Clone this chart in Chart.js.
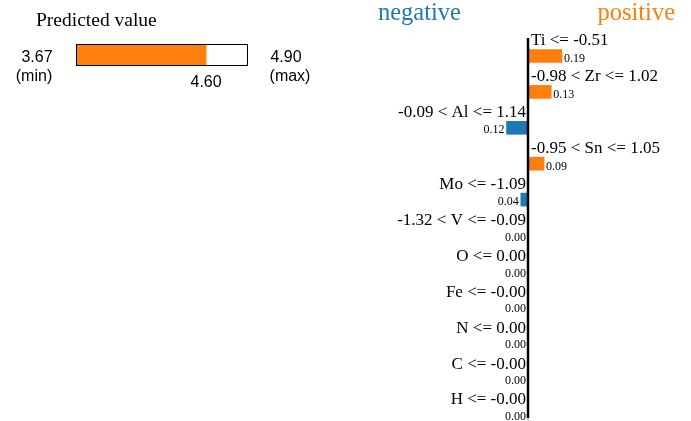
<!DOCTYPE html>
<html>
<head>
<meta charset="utf-8">
<script src="https://cdn.jsdelivr.net/npm/chart.js@4.4.1/dist/chart.umd.min.js"></script>
<style>
  html, body { margin: 0; padding: 0; background: #fff; }
  #wrap { position: relative; width: 691px; height: 421px; overflow: hidden; }
  #expl { position: absolute; left: 0; top: 0; }
  #pred { position: absolute; left: 0; top: 0; }
</style>
</head>
<body>
<div id="wrap">
  <canvas id="expl" width="691" height="421"></canvas>
  <canvas id="pred" width="340" height="100"></canvas>
</div>
<script>
// Prediction range
const predMin = 3.67;
const predMax = 4.90;
const predValue = 4.60;

// Feature conditions and their local weights
const features = [
  "Ti <= -0.51",
  "-0.98 < Zr <= 1.02",
  "-0.09 < Al <= 1.14",
  "-0.95 < Sn <= 1.05",
  "Mo <= -1.09",
  "-1.32 < V <= -0.09",
  "O <= 0.00",
  "Fe <= -0.00",
  "N <= 0.00",
  "C <= -0.00",
  "H <= -0.00"
];
const weights = [0.19, 0.13, -0.12, 0.09, -0.04, 0.00, 0.00, 0.00, 0.00, 0.00, 0.00];

const BLUE = '#1f77b4';
const ORANGE = '#ff7f0e';
const SERIF = '"Liberation Serif", "Times New Roman", serif';
const SANS = '"Liberation Sans", Arial, sans-serif';

Chart.defaults.animation = false;

// ---- Predicted value bar ----
const predText = {
  id: 'predText',
  afterDraw(chart) {
    const ctx = chart.ctx;
    const a = chart.chartArea;
    const x = chart.scales.x;
    ctx.save();
    ctx.strokeStyle = '#000';
    ctx.lineWidth = 1;
    ctx.strokeRect(a.left + 0.5, a.top + 0.5, a.right - a.left - 1, a.bottom - a.top - 1);
    ctx.fillStyle = '#000';
    ctx.font = '19.5px ' + SERIF;
    ctx.textAlign = 'left';
    ctx.textBaseline = 'alphabetic';
    ctx.fillText('Predicted value', 36, 26);
    ctx.textBaseline = 'middle';
    ctx.font = '16px ' + SANS;
    ctx.textAlign = 'center';
    ctx.fillText(predMin.toFixed(2), 37, 58);
    ctx.fillText('(min)', 34, 77);
    ctx.fillText(predMax.toFixed(2), 286, 58);
    ctx.fillText('(max)', 290, 77);
    ctx.fillText(predValue.toFixed(2), x.getPixelForValue(predValue), 83);
    ctx.restore();
  }
};

new Chart(document.getElementById('pred'), {
  type: 'bar',
  data: {
    labels: ['pred'],
    datasets: [{
      data: [[predMin, predValue]],
      backgroundColor: ORANGE,
      borderWidth: 0,
      barPercentage: 1,
      categoryPercentage: 1
    }]
  },
  options: {
    responsive: false,
    indexAxis: 'y',
    layout: { padding: { left: 76, right: 92, top: 44, bottom: 34 } },
    scales: {
      x: { display: false, min: predMin, max: predMax },
      y: { display: false }
    },
    plugins: { legend: { display: false }, tooltip: { enabled: false } }
  },
  plugins: [predText]
});

// ---- Explanation bars ----
const explText = {
  id: 'explText',
  afterDatasetsDraw(chart) {
    const ctx = chart.ctx;
    const xs = chart.scales.x;
    const ys = chart.scales.y;
    const x0 = xs.getPixelForValue(0);
    ctx.save();
    // headings
    ctx.font = '24.5px ' + SERIF;
    ctx.textBaseline = 'alphabetic';
    ctx.textAlign = 'left';
    ctx.fillStyle = BLUE;
    ctx.fillText('negative', 378, 19.5);
    ctx.fillStyle = ORANGE;
    ctx.textAlign = 'right';
    ctx.fillText('positive', 675, 19.5);
    // zero axis
    ctx.strokeStyle = '#000';
    ctx.lineWidth = 2.5;
    ctx.beginPath();
    ctx.moveTo(x0, ys.getPixelForValue(0) - 18);
    ctx.lineTo(x0, ys.getPixelForValue(features.length - 1) + 3);
    ctx.stroke();
    // feature labels and values
    ctx.textBaseline = 'middle';
    ctx.fillStyle = '#000';
    features.forEach((f, i) => {
      const w = weights[i];
      const yc = ys.getPixelForValue(i);
      const xe = xs.getPixelForValue(w);
      ctx.font = '17px ' + SERIF;
      if (w > 0) {
        ctx.textAlign = 'left';
        ctx.fillText(f, x0 + 3, yc - 15);
        ctx.font = '12px ' + SERIF;
        ctx.fillText(w.toFixed(2), xe + 2, yc + 3);
      } else {
        ctx.textAlign = 'right';
        ctx.fillText(f, x0 - 2, yc - 15);
        ctx.font = '12px ' + SERIF;
        ctx.fillText(Math.abs(w).toFixed(2), xe - 2, yc + 2);
      }
    });
    ctx.restore();
  }
};

new Chart(document.getElementById('expl'), {
  type: 'bar',
  data: {
    labels: features,
    datasets: [{
      data: weights,
      backgroundColor: weights.map(w => w > 0 ? ORANGE : BLUE),
      borderWidth: 0,
      barThickness: 13,
      clip: false
    }]
  },
  options: {
    responsive: false,
    indexAxis: 'y',
    layout: { padding: { left: 420.6, right: 55.6, top: 56, bottom: 6 } },
    scales: {
      x: { display: false, min: -0.6, max: 0.6 },
      y: { display: false, offset: false }
    },
    plugins: { legend: { display: false }, tooltip: { enabled: false } }
  },
  plugins: [explText]
});
</script>
</body>
</html>
